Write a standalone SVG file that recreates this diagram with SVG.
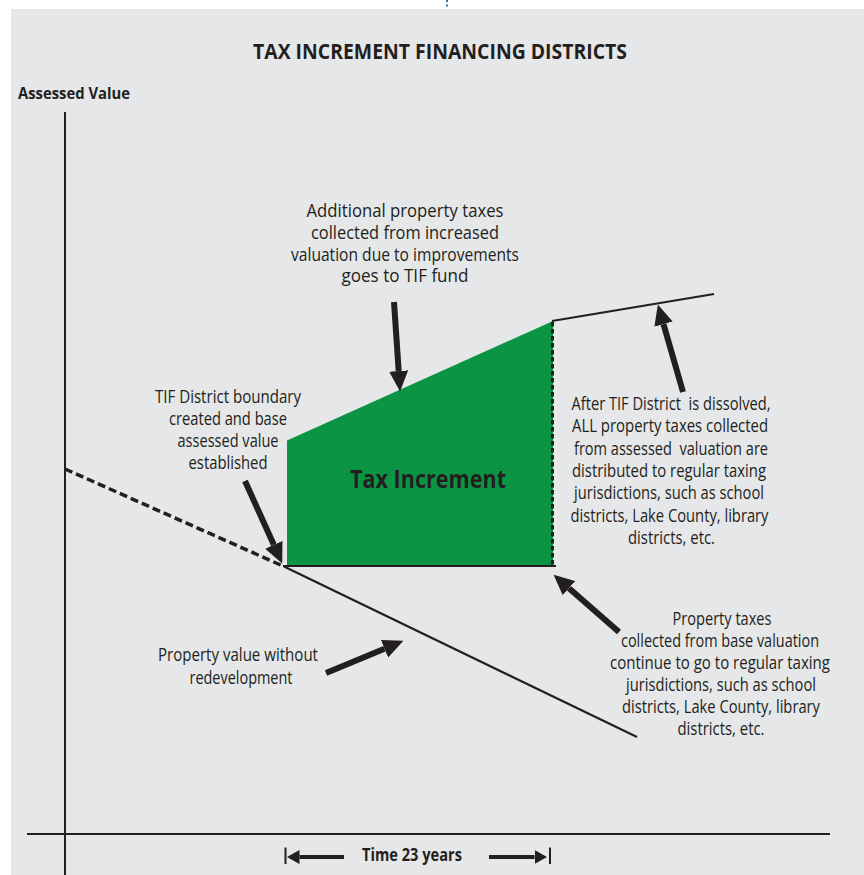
<svg xmlns="http://www.w3.org/2000/svg" width="864" height="875" viewBox="0 0 864 875">
<defs>
<style>
.t{font-family:"Open Sans","Noto Sans","Liberation Sans",sans-serif;font-size:18px;fill:#231f20;text-anchor:middle;white-space:pre}
.b{font-family:"Open Sans","Noto Sans","Liberation Sans",sans-serif;font-weight:bold;fill:#231f20}
.ax{stroke:#231f20;stroke-width:2;fill:none}
.ln{stroke:#231f20;stroke-width:2.2;fill:none}
.ar{stroke:#231f20;stroke-width:6;fill:none;marker-end:url(#ah)}
.as{stroke:#231f20;stroke-width:4;fill:none;marker-end:url(#ahs)}
</style>
<marker id="ah" viewBox="0 -10 21 20" refX="0" refY="0" markerWidth="21" markerHeight="20" markerUnits="userSpaceOnUse" orient="auto">
<path d="M0,-9.5 L20.5,0 L0,9.5 Z" fill="#231f20"/>
</marker>
<marker id="ahs" viewBox="0 -8 13 16" refX="0" refY="0" markerWidth="13" markerHeight="16" markerUnits="userSpaceOnUse" orient="auto">
<path d="M0,-7 L12.5,0 L0,7 Z" fill="#231f20"/>
</marker>
</defs>
<rect x="0" y="0" width="864" height="875" fill="#ffffff"/>
<rect x="11" y="9" width="853" height="866" fill="#e6e7e8"/>
<rect x="446" y="0" width="2" height="2" fill="#3f6f8f"/>
<rect x="446" y="4.5" width="2" height="2" fill="#3f6f8f"/>

<text id="title" class="b" x="440" y="59" font-size="22" text-anchor="middle" textLength="374" lengthAdjust="spacingAndGlyphs">TAX INCREMENT FINANCING DISTRICTS</text>
<text id="ylabel" class="b" x="18" y="99" font-size="16.5" textLength="112" lengthAdjust="spacingAndGlyphs">Assessed Value</text>

<g id="axes">
<line class="ax" x1="65" y1="112" x2="65" y2="875"/>
<line class="ax" x1="27" y1="834" x2="830" y2="834"/>
</g>

<g id="increment">
<polygon points="287,440.5 553,321 553,566 287,566" fill="#0b9444"/>
<text class="b" x="428" y="487.5" font-size="25" text-anchor="middle" textLength="156" lengthAdjust="spacingAndGlyphs">Tax Increment</text>
</g>

<g id="connectors">
<line x1="65" y1="469" x2="284" y2="566.5" stroke="#231f20" stroke-width="3.5" stroke-dasharray="8,4"/>
<line class="ln" x1="284" y1="566.5" x2="637" y2="737"/>
<line class="ln" x1="283" y1="566" x2="556" y2="566"/>
<line x1="552.5" y1="322" x2="552.5" y2="566" stroke="#231f20" stroke-width="3" stroke-dasharray="4.5,2.5"/>
<line class="ln" x1="552" y1="321" x2="714" y2="294"/>
<line class="ar" x1="394" y1="302" x2="398.7" y2="371"/>
<line class="ar" x1="245" y1="481" x2="273.8" y2="544.8"/>
<line class="ar" x1="683" y1="392" x2="663.5" y2="324.2"/>
<line class="ar" x1="619" y1="632" x2="569" y2="588.2"/>
<line class="ar" x1="326" y1="673" x2="384.5" y2="648.7"/>
<line class="ax" x1="285.5" y1="847.5" x2="285.5" y2="864"/>
<line class="ax" x1="550" y1="847.5" x2="550" y2="864"/>
<line class="as" x1="344" y1="857" x2="299.5" y2="857"/>
<line class="as" x1="489" y1="857" x2="534.5" y2="857"/>
</g>

<g id="time">
<text class="b" x="412" y="861" font-size="17" text-anchor="middle" textLength="100" lengthAdjust="spacingAndGlyphs">Time 23 years</text>
</g>

<g id="note-additional">
<text class="t" x="405" y="216.5" textLength="197" lengthAdjust="spacingAndGlyphs">Additional property taxes</text>
<text class="t" x="405" y="238.5" textLength="188" lengthAdjust="spacingAndGlyphs">collected from increased</text>
<text class="t" x="405" y="260.5" textLength="228" lengthAdjust="spacingAndGlyphs">valuation due to improvements</text>
<text class="t" x="405" y="282" textLength="127" lengthAdjust="spacingAndGlyphs">goes to TIF fund</text>
</g>

<g id="note-boundary">
<text class="t" x="228" y="403" textLength="146" lengthAdjust="spacingAndGlyphs">TIF District boundary</text>
<text class="t" x="228" y="425" textLength="118" lengthAdjust="spacingAndGlyphs">created and base</text>
<text class="t" x="228" y="447" textLength="101" lengthAdjust="spacingAndGlyphs">assessed value</text>
<text class="t" x="228" y="468.5" textLength="79" lengthAdjust="spacingAndGlyphs">established</text>
</g>

<g id="note-dissolved">
<text class="t" x="671" y="410" textLength="199" lengthAdjust="spacingAndGlyphs" xml:space="preserve">After TIF District  is dissolved,</text>
<text class="t" x="670" y="432.3" textLength="196" lengthAdjust="spacingAndGlyphs">ALL property taxes collected</text>
<text class="t" x="671" y="454.6" textLength="194" lengthAdjust="spacingAndGlyphs" xml:space="preserve">from assessed  valuation are</text>
<text class="t" x="669" y="476.9" textLength="194" lengthAdjust="spacingAndGlyphs">distributed to regular taxing</text>
<text class="t" x="669" y="499.2" textLength="190" lengthAdjust="spacingAndGlyphs">jurisdictions, such as school</text>
<text class="t" x="669.5" y="521.5" textLength="198" lengthAdjust="spacingAndGlyphs">districts, Lake County, library</text>
<text class="t" x="671.5" y="543.8" textLength="87" lengthAdjust="spacingAndGlyphs">districts, etc.</text>
</g>

<g id="note-base">
<text class="t" x="722" y="625" textLength="99" lengthAdjust="spacingAndGlyphs">Property taxes</text>
<text class="t" x="720" y="647" textLength="198" lengthAdjust="spacingAndGlyphs">collected from base valuation</text>
<text class="t" x="720" y="669" textLength="220" lengthAdjust="spacingAndGlyphs">continue to go to regular taxing</text>
<text class="t" x="721" y="691" textLength="190" lengthAdjust="spacingAndGlyphs">jurisdictions, such as school</text>
<text class="t" x="721" y="713" textLength="198" lengthAdjust="spacingAndGlyphs">districts, Lake County, library</text>
<text class="t" x="721" y="735" textLength="87" lengthAdjust="spacingAndGlyphs">districts, etc.</text>
</g>

<g id="note-without">
<text class="t" x="238" y="661" textLength="160" lengthAdjust="spacingAndGlyphs">Property value without</text>
<text class="t" x="241" y="684" textLength="103" lengthAdjust="spacingAndGlyphs">redevelopment</text>
</g>
</svg>
